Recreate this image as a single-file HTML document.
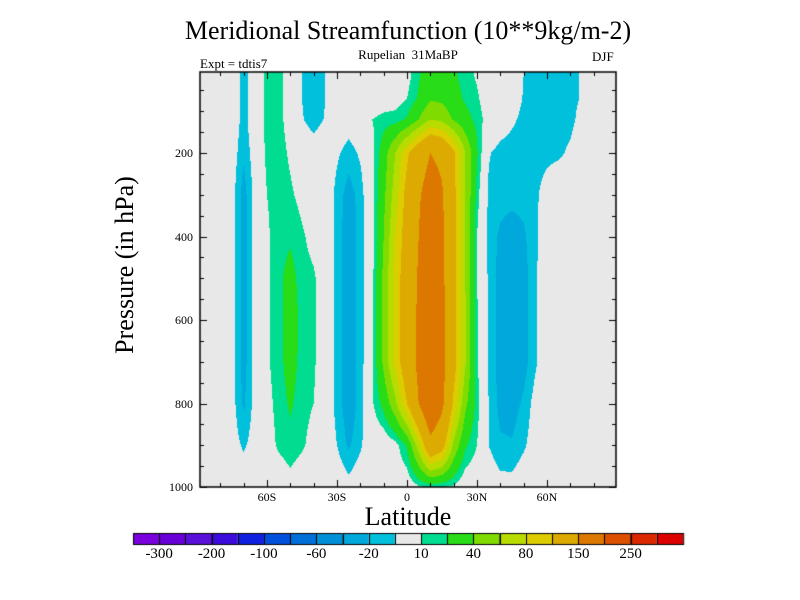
<!DOCTYPE html>
<html><head><meta charset="utf-8">
<style>
html,body{margin:0;padding:0;background:#fff;}
#wrap{position:relative;width:800px;height:600px;font-family:"Liberation Serif",serif;color:#000;}
.t{position:absolute;white-space:nowrap;}
canvas{position:absolute;left:0;top:0;}
</style></head>
<body>
<div id="wrap">
<canvas id="cv" width="800" height="600"></canvas>
<div class="t" style="left:0;width:816px;text-align:center;top:16px;font-size:26px;">Meridional Streamfunction (10**9kg/m-2)</div>
<div class="t" style="left:0;width:816px;text-align:center;top:47px;font-size:13px;">Rupelian&nbsp; 31MaBP</div>
<div class="t" style="left:200px;top:56px;font-size:13px;">Expt = tdtis7</div>
<div class="t" style="left:592px;top:49px;font-size:13px;">DJF</div>
<div class="t" style="left:125px;top:265px;font-size:26px;transform:translate(-50%,-50%) rotate(-90deg);">Pressure (in hPa)</div>
<div class="t" style="left:0;width:816px;text-align:center;top:502px;font-size:26px;">Latitude</div>
<div id="labels"></div>
</div>
<script>
// ---- data ----
const lats = [-90,-85,-80,-75,-70,-65,-60,-55,-50,-45,-40,-35,-30,-25,-20,-15,-10,-5,0,5,10,15,20,25,30,35,40,45,50,55,60,65,70,75,80,85,90];
const levels = [10,70,120,200,300,400,500,600,700,800,900,1000];
const psi10  = [0,0,0,0,-15,0,14,14,3,-10,-18,-10,0,0,0,0,0,0,5,18,30,30,22,15,8,0,0,0,-10,-15,-15,-14,-13,-9,0,0,0];
const psi70  = [0,0,0,0,-15,0,14,14,3,-10,-18,-10,0,0,0,0,2,4,10,22,38,36,26,18,12,2,0,-3,-11,-15,-15,-14,-13,-9,0,0,0];
const psi120 = [0,0,0,0,-15,0,14,14,4,-9,-15,-9,0,-3,0,10,14,15,22,40,60,55,38,26,16,4,-3,-8,-13,-15,-15,-14,-13,-6,0,0,0];
const psi200 = [0,0,0,-3,-18,-3,13,15,8,0,-3,0,-8,-15,-8,5,30,60,95,125,150,140,105,60,22,-9,-14,-15,-15,-14,-13,-12,-8,0,0,0,0];
const psi300 = [0,0,0,-5,-25,-5,10,15,12,6,0,0,-14,-25,-16,6,35,70,110,145,172,155,108,60,15,-12,-16,-17,-16,-12,-5,0,0,0,0,0,0];
const psi400 = [0,0,0,-5,-25,-5,8,16,18,12,5,0,-14,-28,-16,5,40,80,115,150,180,158,110,60,10,-14,-22,-25,-22,-12,-3,0,0,0,0,0,0];
const psi500 = [0,0,0,-5,-25,-5,8,17,25,15,12,0,-14,-28,-16,5,45,85,120,155,185,160,110,60,10,-12,-25,-28,-25,-12,0,0,0,0,0,0,0];
const psi600 = [0,0,0,-5,-25,-5,8,16,28,16,12,0,-14,-28,-16,6,45,85,120,158,190,165,112,62,12,-12,-25,-28,-25,-12,0,0,0,0,0,0,0];
const psi700 = [0,0,0,-5,-25,-5,8,16,26,16,12,0,-14,-28,-16,6,45,85,122,160,195,165,112,62,12,-12,-25,-28,-25,-12,0,0,0,0,0,0,0];
const psi800 = [0,0,0,-5,-22,-5,6,14,22,14,10,0,-14,-28,-16,8,25,55,100,150,198,160,95,45,15,-10,-24,-25,-18,-5,0,0,0,0,0,0,0];
const psi900 = [0,0,0,-4,-12,-4,4,12,16,12,5,0,-10,-22,-12,0,0,5,22,70,135,115,55,22,10,-10,-18,-19,-12,-3,0,0,0,0,0,0,0];
const psi1000= [0,0,0,0,0,0,0,0,5,0,0,0,0,-5,0,0,0,0,0,8,12,10,8,0,0,0,-5,-5,0,0,0,0,0,0,0,0,0];
const grid = [psi10,psi70,psi120,psi200,psi300,psi400,psi500,psi600,psi700,psi800,psi900,psi1000];
const bounds = [-300,-250,-200,-150,-100,-80,-60,-40,-20,-10,10,20,40,60,80,100,150,200,250,300];
const barLabels = ["-300","-200","-100","-60","-20","10","40","80","150","250"];
const yTicks = [200,400,600,800,1000];
const xTicks = [-60,-30,0,30,60];
const xTickText = ["60S","30S","0","30N","60N"];
const colors = ["#7a00dc","#6a00d8","#5a10d8","#3c0cdc","#1020e0","#0050dc","#0070d8","#0090d8","#00a8dc","#00c0dc","#e8e8e8","#00dc90","#28dc18","#80dc00","#b8dc00","#dccc00","#dcaa00","#dc7800","#dc5000","#dc2800","#dc0000"];

// ---- geometry ----
const L=200,R=616,T=72,B=487;
const xOf = lat => 407 + lat*70/30;
const latOf = x => (x-407)*30/70;
const yOf = p => 487 - (1000-p)*0.4175;
const pOf = y => 1000 - (487-y)/0.4175;

function interp(lat,p){
  let i=Math.floor((lat+90)/5); i=Math.max(0,Math.min(lats.length-2,i));
  const fx=Math.max(0,Math.min(1,(lat-lats[i])/5));
  p=Math.max(levels[0],Math.min(1000,p));
  let j=0; while(j<levels.length-2 && p>levels[j+1]) j++;
  const fy=(p-levels[j])/(levels[j+1]-levels[j]);
  const a=grid[j][i]*(1-fx)+grid[j][i+1]*fx;
  const b=grid[j+1][i]*(1-fx)+grid[j+1][i+1]*fx;
  return a*(1-fy)+b*fy;
}
function colorIdx(v){let k=0;while(k<bounds.length&&v>=bounds[k])k++;return k;}
function hex(c){return [parseInt(c.substr(1,2),16),parseInt(c.substr(3,2),16),parseInt(c.substr(5,2),16)];}
const rgb=colors.map(hex);

const cv=document.getElementById('cv'),ctx=cv.getContext('2d');
const img=ctx.createImageData(R-L,B-T);
for(let y=T;y<B;y++){for(let x=L;x<R;x++){
  const c=rgb[colorIdx(interp(latOf(x+0.5),pOf(y+0.5)))];
  const o=((y-T)*(R-L)+(x-L))*4;
  img.data[o]=c[0];img.data[o+1]=c[1];img.data[o+2]=c[2];img.data[o+3]=255;
}}
ctx.putImageData(img,L,T);
ctx.strokeStyle="#000";ctx.lineWidth=1.5;
ctx.strokeRect(L,T,R-L,B-T);
ctx.lineWidth=1;
for(let p=50;p<=1000;p+=50){
  const y=Math.round(yOf(p))+0.5; if(y<T)continue;
  const len=(p%200===0)?7:4;
  ctx.beginPath();ctx.moveTo(L,y);ctx.lineTo(L+len,y);ctx.moveTo(R,y);ctx.lineTo(R-len,y);ctx.stroke();
}
for(let lat=-80;lat<=80;lat+=10){
  const x=Math.round(xOf(lat))+0.5;
  const len=(lat%30===0)?7:4;
  ctx.beginPath();ctx.moveTo(x,B);ctx.lineTo(x,B-len);ctx.moveTo(x,T);ctx.lineTo(x,T+len);ctx.stroke();
}
// colorbar
const BW=550/colors.length;
for(let k=0;k<colors.length;k++){
  const x0=133+BW*k;
  ctx.fillStyle=colors[k];ctx.fillRect(x0,533,BW,11);
  ctx.strokeRect(Math.round(x0)+0.5,533.5,BW,11);
}
const lab=document.getElementById('labels');
function addText(txt,x,y,name,align){
  const d=document.createElement('div');
  d.className='t';d.textContent=txt;
  
  
  d.style.fontSize='12px';d.style.top=y+'px';
  if(align==='right'){d.style.right=(800-x)+'px';}
  else{d.style.left=x+'px';d.style.transform='translateX(-50%)';}
  lab.appendChild(d);return d;
}
yTicks.forEach(p=>{addText(String(p),193,yOf(p)-7,'y-tick-label','right');});
xTicks.forEach((lat,i)=>{addText(xTickText[i],xOf(lat),490,'x-tick-label','center');});
barLabels.forEach((s,i)=>{const d=addText(s,133+BW*(2*i+1),546,'colorbar-label','center');d.style.fontSize='15px';});
</script>
</body></html>
